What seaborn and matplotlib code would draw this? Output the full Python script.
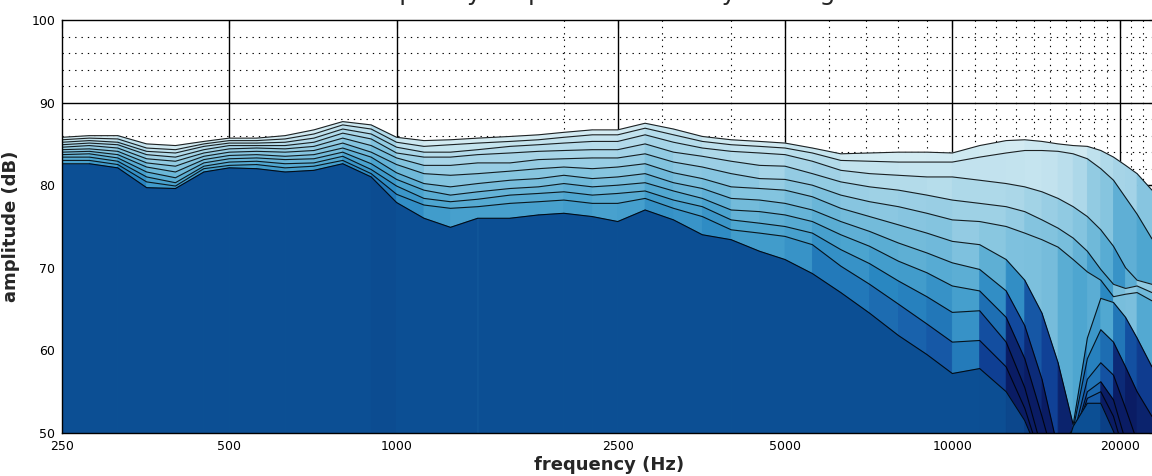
import numpy as np
import seaborn as sns
import matplotlib
matplotlib.use("Agg")
import matplotlib.pyplot as plt
from matplotlib.collections import PolyCollection
from matplotlib.colors import LinearSegmentedColormap, to_rgb
from matplotlib.ticker import FixedLocator, NullLocator

# frequency points (Hz), roughly 1/6 octave
freqs = [250, 280, 315, 355, 400, 450, 500, 560, 630, 710, 800, 900,
         1000, 1120, 1250, 1400, 1600, 1800, 2000, 2250, 2500, 2800,
         3150, 3550, 4000, 4500, 5000, 5600, 6300, 7100, 8000, 9000,
         10000, 11200, 12500, 13500, 14500, 15500, 16500, 17500, 18500,
         19500, 20500, 21500, 22870]

# off-axis angles, back (on-axis) to front
angles = [0, 9, 18, 27, 36, 45, 54, 63, 72, 81, 90]

# amplitude (dB) per angle
amp_00 = [85.8, 86.0, 86.0, 85.0, 84.8, 85.3, 85.7, 85.7, 86.0, 86.7, 87.7, 87.3,
          85.8, 85.4, 85.5, 85.7, 85.9, 86.1, 86.4, 86.7, 86.7, 87.5, 86.8, 85.9,
          85.5, 85.3, 85.1, 84.5, 83.8, 83.9, 84.0, 84.0, 83.9, 84.8, 85.4, 85.5,
          85.3, 85.0, 84.8, 84.7, 84.2, 83.4, 82.4, 81.4, 79.4]
amp_09 = [85.5, 85.7, 85.6, 84.5, 84.3, 85.0, 85.4, 85.4, 85.6, 86.2, 87.3, 86.8,
          85.2, 84.7, 84.9, 85.1, 85.3, 85.5, 85.8, 86.1, 86.1, 86.9, 86.1, 85.3,
          84.9, 84.7, 84.5, 83.9, 83.0, 82.9, 82.8, 82.8, 82.8, 83.4, 83.9, 84.2,
          84.2, 84.1, 83.8, 83.2, 82.0, 80.6, 78.5, 76.5, 73.5]
amp_18 = [85.2, 85.4, 85.2, 84.1, 83.9, 84.7, 85.1, 85.1, 85.2, 85.7, 86.8, 86.2,
          84.6, 84.0, 84.0, 84.3, 84.7, 84.9, 85.1, 85.3, 85.3, 86.1, 85.2, 84.5,
          84.1, 83.9, 83.7, 82.9, 81.8, 81.4, 81.2, 81.0, 81.0, 80.6, 80.2, 79.8,
          79.2, 78.4, 77.4, 76.2, 74.6, 72.6, 70.0, 68.5, 68.0]
amp_27 = [84.9, 85.1, 84.9, 83.7, 83.4, 84.3, 84.8, 84.8, 84.8, 85.2, 86.3, 85.6,
          83.9, 83.4, 83.4, 83.7, 83.9, 84.1, 84.2, 84.3, 84.3, 85.0, 84.0, 83.5,
          82.9, 82.4, 82.3, 81.4, 80.4, 79.8, 79.4, 78.8, 78.2, 77.8, 77.4, 76.8,
          75.8, 74.8, 73.6, 72.0, 69.8, 68.0, 67.5, 67.8, 67.0]
amp_36 = [84.6, 84.8, 84.5, 83.2, 82.9, 83.9, 84.4, 84.5, 84.4, 84.7, 85.7, 84.8,
          83.3, 82.4, 82.4, 82.7, 82.7, 83.1, 83.2, 83.3, 83.3, 83.8, 82.8, 82.2,
          81.4, 80.8, 80.7, 80.0, 78.8, 78.0, 77.4, 76.6, 75.8, 75.6, 75.0, 74.2,
          73.4, 72.5, 71.0, 69.5, 68.5, 66.5, 66.8, 67.0, 66.0]
amp_45 = [84.3, 84.4, 84.1, 82.7, 82.3, 83.5, 84.0, 84.1, 84.0, 84.2, 85.1, 84.0,
          82.5, 81.4, 81.2, 81.4, 81.7, 82.0, 82.2, 82.0, 82.2, 82.6, 81.5, 80.8,
          79.8, 79.6, 79.4, 78.6, 77.2, 76.2, 75.2, 74.2, 73.2, 72.8, 71.0, 68.5,
          64.5, 58.5, 51.0, 61.5, 66.3, 65.8, 64.0, 61.5, 58.0]
amp_54 = [84.0, 84.1, 83.7, 82.2, 81.6, 83.1, 83.6, 83.7, 83.5, 83.7, 84.5, 83.4,
          81.5, 80.2, 79.8, 80.2, 80.6, 80.8, 81.2, 80.8, 81.0, 81.4, 80.3, 79.6,
          78.4, 78.2, 77.8, 77.0, 75.6, 74.4, 73.0, 71.8, 70.6, 69.8, 67.2, 63.0,
          56.5, 48.0, 50.5, 59.0, 62.5, 61.0, 58.0, 55.0, 52.0]
amp_63 = [83.7, 83.8, 83.3, 81.6, 80.9, 82.7, 83.2, 83.3, 83.1, 83.2, 84.0, 82.6,
          80.7, 79.4, 78.8, 79.2, 79.6, 79.8, 80.2, 79.8, 80.0, 80.3, 79.3, 78.4,
          77.0, 76.8, 76.4, 75.6, 74.0, 72.6, 70.8, 69.4, 67.8, 67.2, 64.0, 59.0,
          52.0, 45.0, 49.5, 56.5, 58.5, 57.0, 53.0, 49.0, 46.0]
amp_72 = [83.4, 83.4, 82.9, 81.0, 80.3, 82.3, 82.8, 82.9, 82.6, 82.7, 83.5, 81.9,
          79.9, 78.4, 78.0, 78.3, 78.8, 79.0, 79.2, 78.8, 79.0, 79.3, 78.2, 77.4,
          75.8, 75.4, 75.0, 74.2, 72.2, 70.5, 68.4, 66.5, 64.6, 64.8, 61.0, 55.5,
          48.0, 44.0, 49.0, 55.0, 56.2, 54.0, 49.0, 46.0, 44.0]
amp_81 = [83.0, 83.0, 82.5, 80.4, 79.9, 82.0, 82.4, 82.5, 82.1, 82.3, 83.0, 81.4,
          78.9, 77.6, 77.2, 77.4, 77.8, 78.0, 78.2, 77.8, 77.8, 78.4, 77.2, 76.2,
          74.6, 74.2, 73.8, 72.8, 70.2, 68.0, 65.6, 63.2, 61.0, 61.2, 58.0, 53.0,
          46.5, 44.0, 49.0, 54.2, 55.0, 52.0, 47.0, 44.0, 43.0]
amp_90 = [82.6, 82.6, 82.1, 79.7, 79.6, 81.6, 82.1, 82.0, 81.6, 81.8, 82.6, 81.0,
          77.9, 76.0, 74.9, 76.0, 76.0, 76.4, 76.6, 76.2, 75.6, 77.0, 75.8, 74.0,
          73.4, 72.0, 71.0, 69.3, 67.0, 64.5, 61.8, 59.5, 57.2, 57.8, 55.0, 51.5,
          46.5, 45.0, 50.8, 53.6, 53.6, 50.2, 46.0, 44.0, 43.0]

curves = [amp_00, amp_09, amp_18, amp_27, amp_36, amp_45,
          amp_54, amp_63, amp_72, amp_81, amp_90]

title = "frequency response directivity vs. angle"
xticks = [250, 500, 1000, 2500, 5000, 10000, 20000]
yticks = [50, 60, 70, 80, 90, 100]

sns.set_style("white")
plt.rcParams["font.family"] = ["DejaVu Sans"]

# light cyan at the back, through saturated blues, to navy in the deep walls
depth_cmap = LinearSegmentedColormap.from_list(
    "depth", ["#d3ebf2", "#a9d6e8", "#7cc0dd", "#4ea6d0", "#2a88c2",
              "#1a66ae", "#10449a", "#0a1c64"])
navy = np.array(to_rgb("#0a1c64"))
front_col = np.array(to_rgb("#0c4f94"))

fig = plt.figure(figsize=(11.52, 4.76), dpi=100)
ax = fig.add_axes([62 / 1152, 43 / 476, 1095 / 1152, 413 / 476])
ax.set_xscale("log")

f = np.array(freqs, dtype=float)
lf = np.log2(f)
n = len(curves)
floor = 40.0

for i, amp in enumerate(curves):
    y = np.array(amp, dtype=float)
    slope = np.diff(y) / np.diff(lf)
    mid = 0.5 * (y[1:] + y[:-1])
    verts, cols = [], []
    for j in range(len(f) - 1):
        verts.append([(f[j], floor), (f[j], y[j]), (f[j + 1], y[j + 1]), (f[j + 1], floor)])
        s = slope[j]
        if i == n - 1:
            d = 0.4 * np.clip((-s - 15) / 40, 0, 1)
            cols.append(tuple((1 - d) * front_col + d * navy))
        else:
            v = (0.45 * i / (n - 2)
                 + 0.45 * np.clip(-s / 40, 0, 1) + 0.12 * np.clip(s / 40, 0, 1)
                 + 0.35 * np.clip((72 - mid[j]) / 22, 0, 1))
            cols.append(depth_cmap(min(v, 1.0)))
    pc = PolyCollection(verts, facecolors=cols, edgecolors=cols,
                        linewidths=0.6, zorder=2 + 2 * i)
    ax.add_collection(pc)
    sns.lineplot(x=freqs, y=amp, color="k", lw=0.8, alpha=0.85,
                 ax=ax, zorder=3 + 2 * i, estimator=None)

# grid drawn by hand so it stays under the fills while ticks stay on top
dots = (0, (1.2, 4.5))
for yv in range(52, 100, 2):
    if yv % 10:
        ax.axhline(yv, color="k", lw=0.8, ls=dots, zorder=0.5)
for yv in yticks[1:-1]:
    ax.axhline(yv, color="k", lw=1.0, zorder=0.6)
minor_x = [2000, 3000, 4000, 6000, 7000, 8000, 9000] + \
          [k * 1000 for k in range(11, 20)] + [21000, 22000]
for xv in minor_x:
    ax.axvline(xv, color="k", lw=0.8, ls=dots, zorder=0.5)
for xv in xticks[1:]:
    ax.axvline(xv, color="k", lw=1.0, zorder=0.6)

ax.set_xlim(250, 23350)
ax.set_ylim(50, 100)
ax.xaxis.set_major_locator(FixedLocator(xticks))
ax.set_xticklabels([str(t) for t in xticks])
ax.xaxis.set_minor_locator(NullLocator())
ax.set_yticks(yticks)
ax.tick_params(which="major", direction="in", length=6, width=0.8,
               top=True, right=True, labelsize=9, colors="k", pad=5)
for sp in ax.spines.values():
    sp.set_color("k")
    sp.set_linewidth(1.0)
    sp.set_zorder(40)

ax.set_xlabel("frequency (Hz)", fontsize=13, fontweight="bold", labelpad=2)
ax.set_ylabel("amplitude (dB)", fontsize=13, fontweight="bold", labelpad=8)
# the title sits at the very top edge, cut off as in the original
fig.text(607 / 1152, 1.0, title, ha="center", va="baseline", fontsize=18)

fig.savefig("out.png", dpi=100)
